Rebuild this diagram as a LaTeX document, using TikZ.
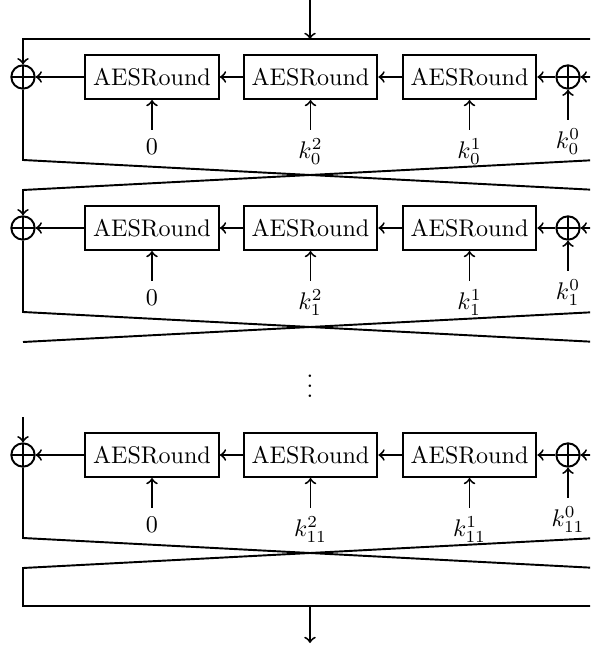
\documentclass[tikz,border=0pt]{standalone}
\begin{document}
\begin{tikzpicture}[x=0.4154pt, y=0.4154pt, thick, >=to]
  \tikzstyle{rnd}=[draw, minimum width=55.6pt, minimum height=18.3pt, inner sep=0pt]
  \tikzstyle{xor}=[draw, circle, minimum size=9.7pt, inner sep=0pt,
    path picture={\draw (path picture bounding box.north) -- (path picture bounding box.south)
      (path picture bounding box.west) -- (path picture bounding box.east);}]
  \useasboundingbox (0,0) rectangle (590,-650);
  \clip (0,0) rectangle (590,-650);
  % one row of rounds
  \foreach \y/\s in {77/0, 228/1, 455/11} {
    \node [xor] (xl\s) at (23,-\y) {};
    \node [rnd] (a\s) at (152,-\y) {AESRound};
    \node [rnd] (b\s) at (310.5,-\y) {AESRound};
    \node [rnd] (c\s) at (469.5,-\y) {AESRound};
    \node [xor] (xr\s) at (568,-\y) {};
    \coordinate (e\s) at (600,-\y);
    \draw [->] (a\s) -- (xl\s);
    \draw [->] (b\s) -- (a\s);
    \draw [->] (c\s) -- (b\s);
    \draw [->] (xr\s) -- (c\s);
    \draw [->] (e\s) -- (xr\s);
    \draw [<-] (a\s.south) -- ++(0,-30) node [below] (z\s) {$0$};
    \draw [<-] (b\s.south) -- ++(0,-30) node [below] (kb\s) {$k_{\s}^2$};
    \draw [<-] (c\s.south) -- ++(0,-30) node [below] (kc\s) {$k_{\s}^1$};
    \draw [<-] (xr\s.south) -- ++(0,-30) node [below] (kr\s) {$k_{\s}^0$};
  }
  % input
  \coordinate (in) at (310,0);
  \coordinate (top) at (310,-39);
  \coordinate (tl) at (23,-39);
  \coordinate (tr) at (600,-39);
  \draw [->] (in) -- (top);
  \draw [->] (tr) -- (tl) -- (xl0);
  % swap after round 0
  \coordinate (p1) at (23,-160);
  \coordinate (q1) at (597,-190);
  \coordinate (p2) at (23,-190);
  \coordinate (q2) at (597,-160);
  \draw (xl0) -- (p1) -- (q1);
  \draw [->] (q2) -- (p2) -- (xl1);
  % swap after round 1
  \coordinate (p3) at (23,-312);
  \coordinate (q3) at (597,-342);
  \coordinate (p4) at (23,-342);
  \coordinate (q4) at (597,-312);
  \draw (xl1) -- (p3) -- (q3);
  \draw (q4) -- (p4);
  \node (dots) at (310,-379) {$\vdots$};
  % last round
  \coordinate (p5) at (23,-417);
  \draw [->] (p5) -- (xl11);
  \coordinate (p6) at (23,-538);
  \coordinate (q6) at (597,-568);
  \coordinate (p7) at (23,-568);
  \coordinate (q7) at (597,-538);
  \coordinate (p8) at (23,-606);
  \coordinate (q8) at (600,-606);
  \draw (xl11) -- (p6) -- (q6);
  \draw (q7) -- (p7) -- (p8) -- (q8);
  % output
  \coordinate (bot) at (310,-606);
  \coordinate (out) at (310,-643);
  \draw [->] (bot) -- (out);
\end{tikzpicture}
\end{document}
